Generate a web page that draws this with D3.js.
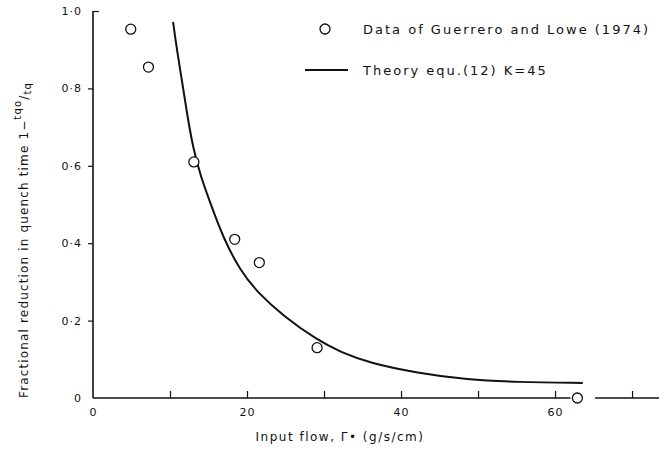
<!DOCTYPE html>
<html>
<head>
<meta charset="utf-8">
<script src="https://cdn.jsdelivr.net/npm/d3@7"></script>
<style>
  body { margin: 0; background: #fff; }
  svg text { font-family: "DejaVu Sans", sans-serif; fill: #111; }
</style>
</head>
<body>
<div id="chart"></div>
<script>
// measured points (input flow, fractional reduction)
var dataFlow = [4.9, 7.2, 13.1, 18.4, 21.6, 29.1, 62.9];
var dataReduction = [0.953, 0.855, 0.61, 0.41, 0.35, 0.13, 0.0];

// theory curve K=45
var theoryFlow = [10.4, 10.9, 11.6, 12.2, 13.0, 14.0, 15.2, 16.9, 19.1, 21.3, 24.7, 29.1, 32.1, 36.0, 42.1, 48.6, 55.1, 63.6];
var theoryReduction = [0.972, 0.899, 0.814, 0.736, 0.645, 0.572, 0.506, 0.414, 0.330, 0.274, 0.212, 0.150, 0.119, 0.090, 0.065, 0.047, 0.041, 0.039];

var xTicks = [0, 10, 20, 30, 40, 50, 60, 70];
var xLabels = [0, 20, 40, 60];
var yTicks = [0, 0.2, 0.4, 0.6, 0.8, 1.0];
var yLabels = ["0", "0\u00b72", "0\u00b74", "0\u00b76", "0\u00b78", "1\u00b70"];

var width = 659, height = 463;
var margin = { top: 11, right: 0, bottom: 65, left: 93 };

var svg = d3.select("#chart").append("svg")
    .attr("width", width)
    .attr("height", height);

var x = d3.scaleLinear().domain([0, 73.5]).range([margin.left, width - margin.right]);
var y = d3.scaleLinear().domain([0, 1]).range([height - margin.bottom, margin.top]);

// x axis: baseline broken around the last data point
var gap = [62.0, 65.2];
var axisG = svg.append("g").attr("stroke", "#111").attr("stroke-width", 1.4);
axisG.append("line")
    .attr("x1", x(0)).attr("x2", x(gap[0]))
    .attr("y1", y(0)).attr("y2", y(0));
axisG.append("line")
    .attr("x1", x(gap[1])).attr("x2", x(73.5))
    .attr("y1", y(0)).attr("y2", y(0));

var xAxis = d3.axisBottom(x)
    .tickValues(xTicks)
    .tickSize(-7)
    .tickPadding(10)
    .tickFormat(function(d) { return xLabels.indexOf(d) >= 0 ? d : ""; });

var gx = svg.append("g")
    .attr("transform", "translate(0," + y(0) + ")")
    .call(xAxis);
gx.select(".domain").remove();
gx.selectAll(".tick line")
    .attr("stroke", "#111")
    .attr("stroke-width", 1.2)
    .attr("opacity", function(d) { return d === 0 ? 0 : 1; });
gx.selectAll(".tick text")
    .attr("font-size", 11)
    .attr("letter-spacing", 1)
    .attr("fill", "#111");

// y axis
var yAxis = d3.axisLeft(y)
    .tickValues(yTicks)
    .tickSize(5)
    .tickPadding(6)
    .tickFormat(function(d, i) { return yLabels[i]; });

var gy = svg.append("g")
    .attr("transform", "translate(" + x(0) + ",0)")
    .call(yAxis);
gy.select(".domain")
    .attr("d", "M0," + y(0) + "V" + y(1))
    .attr("stroke", "#111")
    .attr("stroke-width", 1.6);
gy.selectAll(".tick line")
    .attr("stroke", "#111")
    .attr("stroke-width", 1.2)
    .attr("x2", function(d) { return d === 1 ? 6 : (d === 0 ? 0 : -5); });
gy.selectAll(".tick text")
    .attr("font-size", 11)
    .attr("letter-spacing", 1)
    .attr("fill", "#111");

// theory curve
var theory = theoryFlow.map(function(d, i) { return [d, theoryReduction[i]]; });
var line = d3.line()
    .x(function(d) { return x(d[0]); })
    .y(function(d) { return y(d[1]); })
    .curve(d3.curveBasis);

svg.append("path")
    .datum(theory)
    .attr("d", line)
    .attr("fill", "none")
    .attr("stroke", "#111")
    .attr("stroke-width", 2);

// data points
svg.selectAll("circle.pt")
    .data(dataFlow)
    .enter()
    .append("circle")
    .attr("class", "pt")
    .attr("cx", function(d) { return x(d); })
    .attr("cy", function(d, i) { return y(dataReduction[i]); })
    .attr("r", 5)
    .attr("fill", "#fff")
    .attr("stroke", "#111")
    .attr("stroke-width", 1.3);

// legend
var legend = svg.append("g").attr("font-size", 13).attr("letter-spacing", 2);
legend.append("circle")
    .attr("cx", 325).attr("cy", 29).attr("r", 5)
    .attr("fill", "#fff").attr("stroke", "#111").attr("stroke-width", 1.3);
legend.append("text")
    .attr("x", 363).attr("y", 34)
    .text("Data of Guerrero and Lowe (1974)");
legend.append("line")
    .attr("x1", 305).attr("x2", 348).attr("y1", 70).attr("y2", 70)
    .attr("stroke", "#111").attr("stroke-width", 2);
legend.append("text")
    .attr("x", 363).attr("y", 75)
    .text("Theory equ.(12) K=45");

// axis titles
svg.append("text")
    .attr("x", 340).attr("y", 441)
    .attr("text-anchor", "middle")
    .attr("font-size", 12)
    .attr("letter-spacing", 1.5)
    .text("Input flow, \u0393\u2022 (g/s/cm)");

var yTitle = svg.append("text")
    .attr("transform", "translate(28,398) rotate(-90)")
    .attr("font-size", 12)
    .attr("letter-spacing", 1.15);
yTitle.append("tspan").text("Fractional reduction in quench time 1\u2212");
yTitle.append("tspan").attr("dy", -7).attr("font-size", 10).text("tqo");
yTitle.append("tspan").attr("dy", 7).text("/");
yTitle.append("tspan").attr("dy", 3).attr("font-size", 10).text("tq");
</script>
</body>
</html>
